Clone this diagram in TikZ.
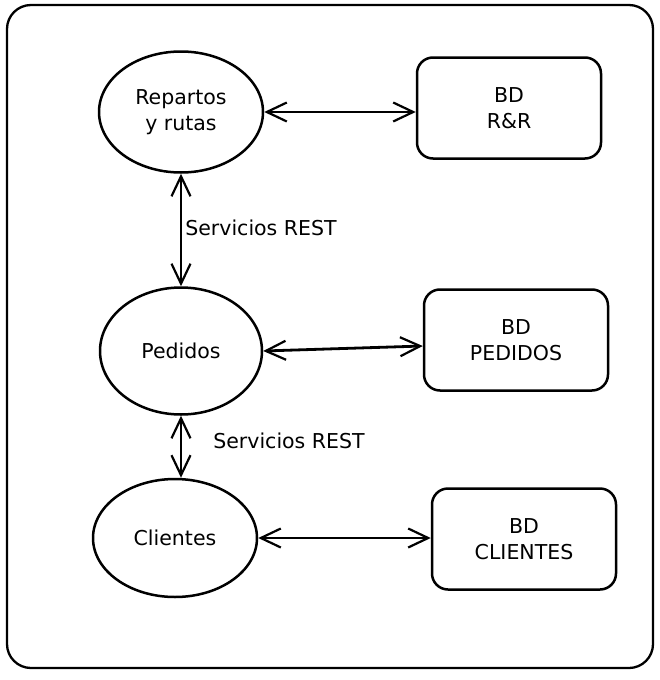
\documentclass[tikz,border=0pt]{standalone}
\usepackage{fontspec}
\setmainfont{DejaVu Sans}
\usepackage{tikz}
\usetikzlibrary{shapes.geometric,arrows.meta}

\tikzset{
  proc/.style={draw, ellipse, line width=2.5pt, inner sep=0pt, align=center},
  dbbox/.style={draw, rounded corners=16pt, line width=2.5pt, inner sep=0pt, align=center, minimum width=184pt, minimum height=101pt},
  link/.style={line width=2.8pt, {Straight Barb[length=20pt,width=19pt,line width=2.2pt]}-{Straight Barb[length=20pt,width=19pt,line width=2.2pt]}}
}

\begin{document}
\begin{tikzpicture}[x=1pt, y=-1pt, font=\fontsize{20.5}{26}\selectfont]

            \useasboundingbox (0,0) rectangle (659,680);
            \draw[line width=2.3pt, rounded corners=24pt] (7,5) rectangle (653,668);

            \node[proc, minimum width=164pt, minimum height=121pt] (rr) at (181,112) {Repartos\\y rutas};
            \node[proc, minimum width=162pt, minimum height=127pt] (ped) at (181,351) {Pedidos};
            \node[proc, minimum width=164pt, minimum height=118pt] (cli) at (175,538) {Clientes};

            \node[dbbox] (bdr) at (509,108) {BD\\R\&R};
            \node[dbbox] (bdp) at (516,340) {BD\\PEDIDOS};
            \node[dbbox] (bdc) at (524,539) {BD\\CLIENTES};

            \draw[link] (rr.east) -- (bdr.west |- rr.east);
            \draw[link] (ped.east) -- ([yshift=-6pt]bdp.west);
            \draw[link] (cli.east) -- (bdc.west |- cli.east);

            \draw[link] (rr.south) -- (ped.north);
            \draw[link] (ped.south) -- (cli.north -| ped.south);

            \node (s1) at (261,228) {Servicios REST};
            \node (s2) at (289,441) {Servicios REST};

        \end{tikzpicture}
\end{document}
